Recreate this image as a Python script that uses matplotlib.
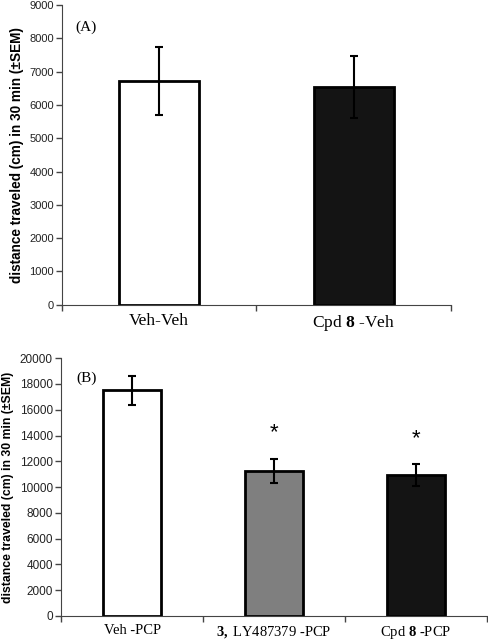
import numpy as np
import matplotlib
matplotlib.use('Agg')
import matplotlib.pyplot as plt

plt.rcParams['mathtext.fontset'] = 'custom'
plt.rcParams['mathtext.rm'] = 'Liberation Serif'
plt.rcParams['mathtext.bf'] = 'Liberation Serif:bold'

# panel A
labels_a = ['Veh-Veh', r'Cpd $\mathbf{8}$ -Veh']
means_a = [6720, 6540]
sem_a = [1020, 930]
colors_a = ['white', '#141414']

# panel B
labels_b = ['Veh -PCP', r'$\mathbf{3,}\/$LY487379 -PCP', r'Cpd $\mathbf{8}$ -PCP']
means_b = [17500, 11260, 10930]
sem_b = [1150, 920, 860]
colors_b = ['white', '#7f7f7f', '#141414']
signif_b = [False, True, True]

ylabel = 'distance traveled (cm) in 30 min (\u00b1SEM)'


def draw_panel(ax, labels, means, sems, colors, ymax, ystep, tag, fs, signif=None):
    # fs = (category labels, tick labels, ylabel)
    n = len(labels)
    x = np.arange(n)
    ax.bar(x, means, width=0.41, color=colors, edgecolor='black', linewidth=2, zorder=2)
    ax.errorbar(x, means, yerr=sems, fmt='none', ecolor='black', elinewidth=1.5,
                capsize=2.8, capthick=1.5, zorder=3)
    if signif is not None:
        for i in range(n):
            if signif[i]:
                ax.text(x[i], means[i] + sems[i] + 2000, '*', ha='center', va='center',
                        fontsize=16, family='Liberation Sans')
    ax.set_xlim(-0.5, n - 0.5)
    ax.set_ylim(0, ymax)
    ax.set_yticks(np.arange(0, ymax + 1, ystep))
    ax.set_xticks(np.arange(-0.5, n, 1.0))
    ax.set_xticklabels([])
    ax.set_xticks(x, minor=True)
    ax.set_xticklabels(labels, minor=True, family='Liberation Serif', fontsize=fs[0])
    ax.tick_params(axis='x', which='minor', length=0, pad=6)
    ax.tick_params(axis='x', which='major', length=4, width=1, color='#444444')
    ax.tick_params(axis='y', length=4, width=1, color='#444444', labelsize=fs[1], pad=2)
    for lab in ax.get_yticklabels():
        lab.set_family('Liberation Sans')
        lab.set_color('#222222')
    ax.spines['top'].set_visible(False)
    ax.spines['right'].set_visible(False)
    ax.spines['left'].set_color('#444444')
    ax.spines['bottom'].set_color('#444444')
    ax.set_ylabel(ylabel, family='Liberation Sans', fontweight='bold', fontsize=fs[2], labelpad=4)
    ax.text(0.035, 0.95, tag, transform=ax.transAxes, family='Liberation Serif',
            fontsize=11, ha='left', va='top')


fig = plt.figure(figsize=(4.89, 6.43), dpi=100)
ax1 = fig.add_axes([0.127, 0.526, 0.795, 0.466])
ax2 = fig.add_axes([0.125, 0.042, 0.871, 0.401])

draw_panel(ax1, labels_a, means_a, sem_a, colors_a, 9000, 1000, '(A)', (12.5, 8, 9.8))
draw_panel(ax2, labels_b, means_b, sem_b, colors_b, 20000, 2000, '(B)', (10.5, 8.5, 8.8), signif_b)

fig.savefig('out.png', dpi=100)
